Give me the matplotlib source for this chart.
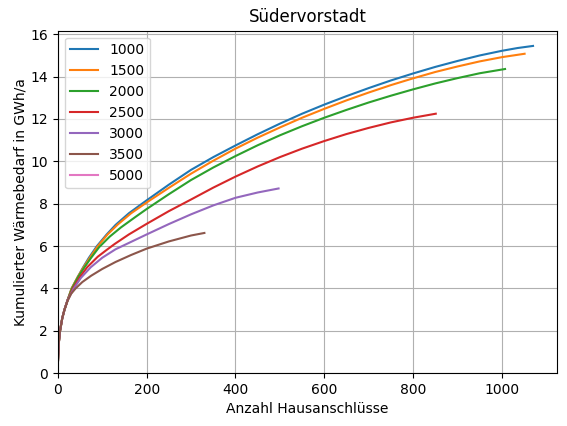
import matplotlib
matplotlib.use("Agg")
import matplotlib.pyplot as plt

labels = ["1000", "1500", "2000", "2500", "3000", "3500", "5000"]

x_1000 = [0, 2, 5, 10, 15, 22, 31, 45, 57, 70, 88, 110, 130, 160, 196, 250, 300, 350, 400,
          450, 500, 550, 600, 650, 700, 750, 800, 850, 900, 950, 1000, 1035, 1070]
y_1000 = [0.4, 1.4, 2.0, 2.6, 3.0, 3.45, 4.0, 4.55, 5.0, 5.45, 6.0, 6.55, 7.0, 7.55, 8.1, 8.9, 9.6, 10.2, 10.75,
          11.28, 11.78, 12.25, 12.68, 13.08, 13.46, 13.82, 14.15, 14.46, 14.74, 15.0, 15.22, 15.35, 15.45]

x_1500 = [0, 2, 5, 10, 15, 22, 31, 45, 58, 72, 90, 112, 135, 165, 203, 250, 300, 350, 400,
          450, 500, 550, 600, 650, 700, 750, 800, 850, 900, 950, 1000, 1051]
y_1500 = [0.4, 1.4, 2.0, 2.6, 3.0, 3.45, 4.0, 4.55, 5.0, 5.45, 6.0, 6.55, 7.02, 7.55, 8.1, 8.75, 9.42, 10.03, 10.6,
          11.12, 11.6, 12.06, 12.48, 12.88, 13.25, 13.6, 13.92, 14.22, 14.48, 14.72, 14.92, 15.08]

x_2000 = [0, 2, 5, 10, 15, 22, 32, 46, 60, 75, 93, 117, 142, 175, 200, 250, 300, 350, 400,
          450, 500, 550, 600, 650, 700, 750, 800, 850, 900, 950, 1007]
y_2000 = [0.4, 1.4, 2.0, 2.6, 3.0, 3.45, 4.0, 4.55, 5.0, 5.45, 5.95, 6.45, 6.88, 7.38, 7.75, 8.45, 9.12, 9.71, 10.25,
          10.76, 11.23, 11.66, 12.06, 12.43, 12.78, 13.1, 13.4, 13.68, 13.93, 14.16, 14.36]

x_2500 = [0, 2, 5, 10, 15, 22, 34, 50, 66, 90, 110, 128, 160, 200, 250, 300, 350, 400,
          450, 500, 550, 600, 650, 700, 750, 800, 851]
y_2500 = [0.4, 1.4, 2.0, 2.6, 3.0, 3.45, 4.0, 4.55, 5.0, 5.5, 5.82, 6.1, 6.55, 7.05, 7.65, 8.2, 8.76, 9.28,
          9.76, 10.2, 10.6, 10.96, 11.29, 11.58, 11.84, 12.06, 12.25]

x_3000 = [0, 2, 5, 10, 15, 22, 36, 52, 74, 100, 130, 165, 200, 250, 300, 350, 400, 450, 497]
y_3000 = [0.4, 1.4, 2.0, 2.6, 3.0, 3.45, 4.0, 4.5, 5.0, 5.45, 5.85, 6.2, 6.55, 7.04, 7.5, 7.92, 8.28, 8.53, 8.72]

x_3500 = [0, 2, 5, 10, 15, 22, 30, 40, 55, 75, 100, 130, 165, 200, 250, 300, 330]
y_3500 = [0.4, 1.4, 2.0, 2.6, 3.0, 3.42, 3.75, 4.0, 4.3, 4.6, 4.92, 5.25, 5.58, 5.88, 6.22, 6.5, 6.62]

x_5000 = []
y_5000 = []

xs = [x_1000, x_1500, x_2000, x_2500, x_3000, x_3500, x_5000]
ys = [y_1000, y_1500, y_2000, y_2500, y_3000, y_3500, y_5000]
colors = ["#1f77b4", "#ff7f0e", "#2ca02c", "#d62728", "#9467bd", "#8c564b", "#e377c2"]

fig = plt.figure(figsize=(5.67, 4.26), dpi=100)
ax = fig.add_axes([0.102, 0.124, 0.880, 0.804])
for x, y, lab, c in zip(xs, ys, labels, colors):
    ax.plot(x, y, label=lab, color=c, linewidth=1.5)

ax.set_xlim(0, 1123.5)
ax.set_ylim(0, 16.17)
ax.grid(True)
ax.set_title("Südervorstadt")
ax.set_xlabel("Anzahl Hausanschlüsse")
ax.set_ylabel("Kumulierter Wärmebedarf in GWh/a", labelpad=2)
ax.legend(loc="upper left")

fig.savefig("out.png", dpi=100)
